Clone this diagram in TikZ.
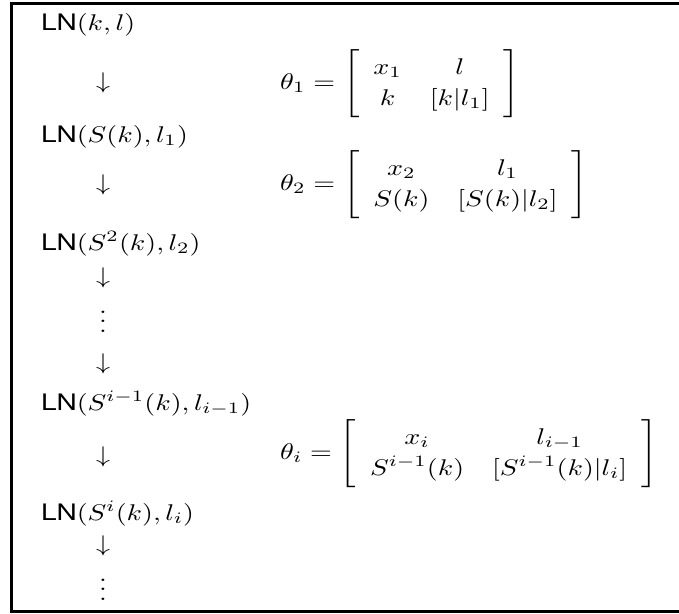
\RequirePackage{fix-cm}
\documentclass[tikz,border=0pt]{standalone}
\usepackage{fontspec}
\usepackage{graphicx}
\newfontfamily\hvfont{TeX Gyre Heros}
\newcommand{\LNt}{{\hvfont LN}}
\newcommand{\sx}[1]{\scalebox{2.8}[2.27]{#1}}
\renewcommand{\arraystretch}{1.14}
\begin{document}
\begin{tikzpicture}[x=1pt,y=-1pt,
  every node/.style={inner sep=0pt, outer sep=0pt, font=\fontsize{10}{12}\selectfont},
  lnlabel/.style={anchor=base west},
  darr/.style={anchor=base},
  dotsbox/.style={anchor=south},
  thetabox/.style={anchor=base west}]
\useasboundingbox (0,0) rectangle (679,613);
\begin{scope}
\clip (0,0) rectangle (679,613);
\draw[line width=2.8pt] (11.5,3.5) rectangle (682,611.5);
\end{scope}
% left column
\node[lnlabel] (n0) at (41,30) {\sx{\LNt$(k,l)$}};
\node[darr] (a1) at (103,88) {\sx{$\downarrow$}};
\node[lnlabel] (n1) at (41,142) {\sx{\LNt$(S(k),l_1)$}};
\node[darr] (a2) at (103,190) {\sx{$\downarrow$}};
\node[lnlabel] (n2) at (41,250) {\sx{\LNt$(S^2(k),l_2)$}};
\node[darr] (a3) at (103,283) {\sx{$\downarrow$}};
\node[dotsbox] (d1) at (103,332) {\sx{$\vdots$}};
\node[darr] (a4) at (103,369) {\sx{$\downarrow$}};
\node[lnlabel] (n3) at (41,410) {\sx{\LNt$(S^{i-1}(k),l_{i-1})$}};
\node[darr] (a5) at (103,462) {\sx{$\downarrow$}};
\node[lnlabel] (n4) at (41,520) {\sx{\LNt$(S^i(k),l_i)$}};
\node[darr] (a6) at (103,551) {\sx{$\downarrow$}};
\node[dotsbox] (d2) at (103,600) {\sx{$\vdots$}};
% matrices
\node[thetabox] (t1) at (280,89) {\sx{$\theta_1 = \left[\begin{array}{cc} x_1 & l\\ k & [k|l_1]\end{array}\right]$}};
\node[thetabox] (t2) at (280,190) {\sx{$\theta_2 = \left[\begin{array}{cc} x_2 & l_1\\ S(k) & [S(k)|l_2]\end{array}\right]$}};
\node[thetabox] (ti) at (280,459) {\sx{$\theta_i = \left[\begin{array}{cc} x_i & l_{i-1}\\ S^{i-1}(k) & [S^{i-1}(k)|l_i]\end{array}\right]$}};
\end{tikzpicture}
\end{document}
